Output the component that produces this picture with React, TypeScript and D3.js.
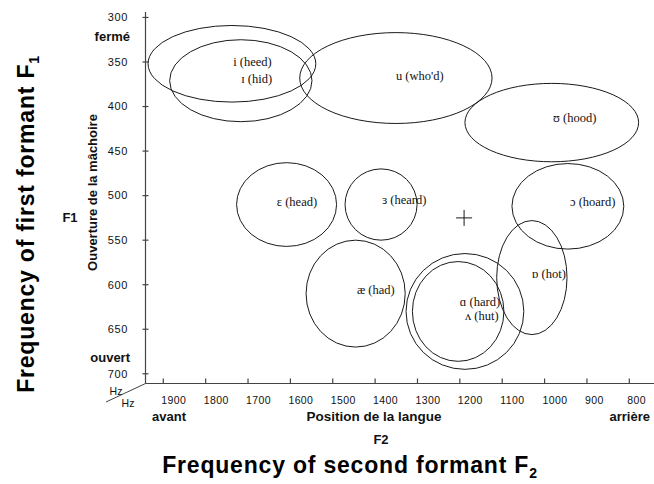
import React from "react";
import * as d3 from "d3";

// Vowel areas: centre (F2, F1) and half-widths (Hz)
const vowelNames = ["heed", "hid", "who'd", "hood", "head", "heard", "hoard", "had", "hard", "hut", "hot"];
const centerF2 = [1738, 1717, 1351, 983, 1609, 1386, 945, 1446, 1188, 1204, 1030];
const centerF1 = [352, 371, 368, 418, 510, 510, 512, 610, 630, 630, 592];
const radiusF2 = [198, 168, 227, 205, 118, 85, 132, 117, 139, 108, 83];
const radiusF1 = [43, 46, 51, 44, 47, 40, 48, 60, 65, 56, 64];

// Labels: text and anchor position (F2 at text start, F1 at text middle)
const labelTexts = ["i (heed)", "ɪ (hid)", "u (who'd)", "ʊ (hood)", "ɛ (head)", "ɜ (heard)", "ɔ (hoard)", "æ (had)", "ɑ (hard)", "ʌ (hut)", "ɒ (hot)"];
const labelF2 = [1735, 1716, 1351, 980, 1632, 1384, 940, 1443, 1200, 1188, 1030];
const labelF1 = [350, 369, 365, 413, 507, 505, 507, 605, 619, 635, 587];

// Neutral point
const neutralF2 = [1190];
const neutralF1 = [525];

const yTicks = [300, 350, 400, 450, 500, 550, 600, 650, 700];
const xTicks = [1900, 1800, 1700, 1600, 1500, 1400, 1300, 1200, 1100, 1000, 900, 800];

export default function App() {
  const W = 654, H = 484;
  const x = d3.scaleLinear().domain([1900, 800]).range([163.3, 629.3]);
  const y = d3.scaleLinear().domain([350, 700]).range([62, 373.8]);
  const axX = 145.5;
  const axY = 383.5;
  const sans = "Arial, 'Liberation Sans', Helvetica, sans-serif";
  const serif = "'Times New Roman', 'Liberation Serif', 'DejaVu Serif', serif";
  const stroke = "#1a1a1a";
  return (
    <svg width={W} height={H} style={{ position: "absolute", left: 0, top: 0, background: "#fff" }}>
      <rect x={0} y={0} width={W} height={H} fill="#fff" />
      {/* axes */}
      <line x1={axX} y1={12} x2={axX} y2={axY} stroke="#444" strokeWidth={1.2} />
      <line x1={axX} y1={axY} x2={654} y2={axY} stroke="#444" strokeWidth={1.2} />
      <line x1={axX} y1={axY} x2={106} y2={402} stroke="#444" strokeWidth={1} />
      {yTicks.map((t) => (
        <g key={"yt" + t}>
          <line x1={axX - 3} x2={axX + 3} y1={y(t)} y2={y(t)} stroke="#444" strokeWidth={1.2} />
          <text x={128} y={y(t)} dy="0.35em" textAnchor="end" fontFamily={sans} fontSize={11} letterSpacing={0.6} fill="#111">{t}</text>
        </g>
      ))}
      {xTicks.map((t) => (
        <g key={"xt" + t}>
          <line x1={x(t)} x2={x(t)} y1={axY - 5} y2={axY} stroke="#444" strokeWidth={1.2} />
          <text x={x(t) - 2} y={axY + 20} textAnchor="start" fontFamily={sans} fontSize={10.5} letterSpacing={0.4} fill="#111">{t}</text>
        </g>
      ))}
      <text x={116} y={395} textAnchor="middle" fontFamily={sans} fontSize={10.5} fill="#111">Hz</text>
      <text x={128} y={407} textAnchor="middle" fontFamily={sans} fontSize={10.5} fill="#111">Hz</text>

      {/* axis annotations */}
      <text x={130} y={41} textAnchor="end" fontFamily={sans} fontSize={13} fontWeight="bold" fill="#111">fermé</text>
      <text x={130} y={362} textAnchor="end" fontFamily={sans} fontSize={13} fontWeight="bold" fill="#111">ouvert</text>
      <text x={70} y={222} textAnchor="middle" fontFamily={sans} fontSize={13} fontWeight="bold" fill="#111">F1</text>
      <text transform="translate(97,192.5) rotate(-90)" textAnchor="middle" fontFamily={sans} fontSize={13} fontWeight="bold" fill="#111">Ouverture de la mâchoire</text>
      <text x={152} y={421} textAnchor="start" fontFamily={sans} fontSize={13} fontWeight="bold" fill="#111">avant</text>
      <text x={650} y={421} textAnchor="end" fontFamily={sans} fontSize={13} fontWeight="bold" fill="#111">arrière</text>
      <text x={374} y={421} textAnchor="middle" fontFamily={sans} fontSize={13.5} fontWeight="bold" fill="#111">Position de la langue</text>
      <text x={381} y={444} textAnchor="middle" fontFamily={sans} fontSize={13} fontWeight="bold" fill="#111">F2</text>

      {/* big titles */}
      <text x={350} y={473} textAnchor="middle" fontFamily={sans} fontSize={23} letterSpacing={0.8} fontWeight="bold" fill="#000">
        Frequency of second formant F<tspan fontSize={14} dy={5}>2</tspan>
      </text>
      <text transform="translate(34,224) rotate(-90)" textAnchor="middle" fontFamily={sans} fontSize={23} letterSpacing={0.8} fontWeight="bold" fill="#000">
        Frequency of first formant F<tspan fontSize={14} dy={5}>1</tspan>
      </text>

      {/* vowel ellipses */}
      {vowelNames.map((n, i) => (
        <ellipse
          key={"e" + n}
          cx={x(centerF2[i])}
          cy={y(centerF1[i])}
          rx={Math.abs(x(centerF2[i] + radiusF2[i]) - x(centerF2[i]))}
          ry={Math.abs(y(centerF1[i] + radiusF1[i]) - y(centerF1[i]))}
          fill="none"
          stroke={stroke}
          strokeWidth={1}
        />
      ))}
      {labelTexts.map((t, i) => (
        <text key={"l" + i} x={x(labelF2[i])} y={y(labelF1[i])} dy="0.35em" fontFamily={serif} fontSize={12.5} fill="#111">{t}</text>
      ))}
      {neutralF2.map((f2, i) => (
        <g key={"n" + i}>
          <line x1={x(f2) - 8} x2={x(f2) + 8} y1={y(neutralF1[i])} y2={y(neutralF1[i])} stroke={stroke} strokeWidth={1} />
          <line x1={x(f2)} x2={x(f2)} y1={y(neutralF1[i]) - 8} y2={y(neutralF1[i]) + 8} stroke={stroke} strokeWidth={1} />
        </g>
      ))}
    </svg>
  );
}
